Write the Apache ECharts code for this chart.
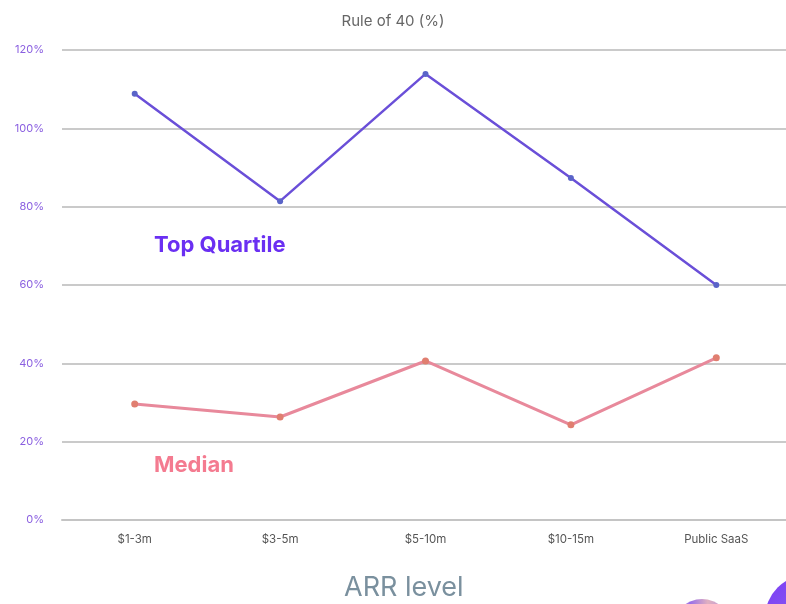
<!DOCTYPE html>
<html>
<head>
<meta charset="utf-8">
<script src="https://cdn.jsdelivr.net/npm/echarts@6/dist/echarts.min.js"></script>
<style>
  html, body { margin: 0; padding: 0; background: #fff; }
  #main { width: 786px; height: 604px; }
</style>
</head>
<body>
<div id="main"></div>
<script>
var myChart = echarts.init(document.getElementById('main'));

const categories = ['$1-3m', '$3-5m', '$5-10m', '$10-15m', 'Public SaaS'];
const topQuartile = [108.8, 81.4, 113.9, 87.3, 60.0];
const median = [29.6, 26.3, 40.6, 24.3, 41.4];

const option = {
  animation: false,
  title: {
    text: 'Rule of 40 (%)',
    left: 'center',
    top: 9,
    textStyle: {
      fontFamily: 'Inter',
      fontWeight: 'normal',
      fontSize: 15,
      color: '#666'
    }
  },
  grid: {
    left: 62,
    width: 727,
    top: 50,
    bottom: 84,
    outerBoundsMode: 'none'
  },
  xAxis: {
    type: 'category',
    data: categories,
    axisLine: { lineStyle: { color: '#c4c4c4', width: 2 } },
    axisTick: { show: false },
    axisLabel: {
      margin: 14,
      fontFamily: 'Inter',
      fontSize: 11.5,
      color: '#555'
    }
  },
  yAxis: {
    type: 'value',
    min: 0,
    max: 120,
    interval: 20,
    axisLabel: {
      formatter: '{value}%',
      margin: 18,
      fontFamily: 'Inter',
      fontSize: 11,
      color: '#8a5fe0'
    },
    splitLine: { lineStyle: { color: '#b9b9b9', width: 1.5 } }
  },
  series: [
    {
      name: 'Top Quartile',
      type: 'line',
      data: topQuartile,
      symbol: 'circle',
      symbolSize: 6,
      lineStyle: { color: '#6a4fd8', width: 2.5 },
      itemStyle: { color: '#5a64c8' }
    },
    {
      name: 'Median',
      type: 'line',
      data: median,
      symbol: 'circle',
      symbolSize: 7,
      lineStyle: { color: '#e8899b', width: 3 },
      itemStyle: { color: '#e07e70' }
    }
  ],
  graphic: [
    {
      type: 'text',
      left: 154,
      top: 234,
      style: {
        text: 'Top Quartile',
        fontFamily: 'Inter',
        fontWeight: 'bold',
        fontSize: 22,
        fill: '#6a2ff2'
      }
    },
    {
      type: 'text',
      left: 154,
      top: 454,
      style: {
        text: 'Median',
        fontFamily: 'Inter',
        fontWeight: 'bold',
        fontSize: 22,
        fill: '#f47b90'
      }
    },
    {
      type: 'text',
      left: 344,
      top: 574,
      style: {
        text: 'ARR level',
        fontFamily: 'Inter',
        fontSize: 27,
        fill: '#7a909e'
      }
    },
    {
      type: 'circle',
      shape: { cx: 808, cy: 618, r: 43 },
      style: {
        fill: new echarts.graphic.LinearGradient(0, 0, 1, 1, [
          { offset: 0, color: '#7a3cf5' },
          { offset: 0.5, color: '#8a5cf0' },
          { offset: 1, color: '#6a2ff2' }
        ])
      }
    },
    {
      type: 'circle',
      shape: { cx: 702, cy: 628, r: 29 },
      style: {
        fill: new echarts.graphic.LinearGradient(0, 0, 1, 0, [
          { offset: 0, color: '#d8a8c8' },
          { offset: 0.3, color: '#9a70e8' },
          { offset: 0.6, color: '#e0b0c0' },
          { offset: 1, color: '#b090e0' }
        ])
      }
    }
  ]
};

myChart.setOption(option);
</script>
</body>
</html>
